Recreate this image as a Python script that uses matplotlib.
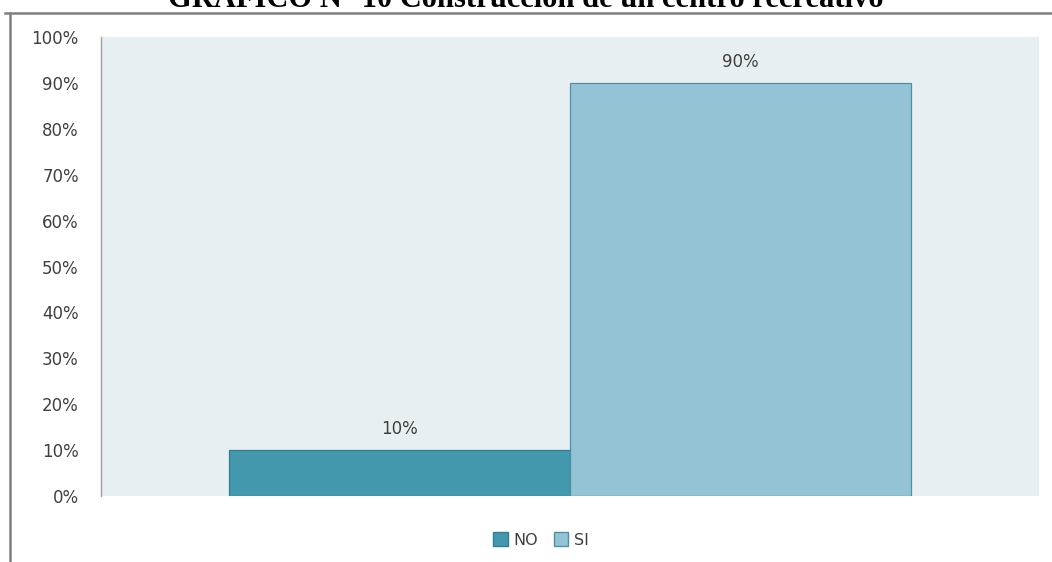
import matplotlib
matplotlib.use("Agg")
import matplotlib.pyplot as plt
from matplotlib.patches import Patch
from matplotlib.lines import Line2D
from matplotlib.ticker import PercentFormatter

title = "GRÁFICO N° 10 Construcción de un centro recreativo"
series = ["NO", "SI"]
values = [10, 90]
colors = ["#4398AE", "#93C3D5"]
edges = ["#2F7F94", "#4E8FA6"]
yticks = [0, 10, 20, 30, 40, 50, 60, 70, 80, 90, 100]

FONT = "DejaVu Sans"
TXT = "#404040"

fig = plt.figure(figsize=(10.52, 5.62), dpi=100)
ax = fig.add_axes([101/1052, 66/562, 938/1052, 459/562])
ax.set_facecolor("#E8EFF3")

width = 0.3635
offsets = [-width/2, width/2]
for v, off, c, e, name in zip(values, offsets, colors, edges, series):
    ax.bar(0.5 + off, v, width=width, color=c, edgecolor=e, linewidth=0.9, label=name)
    ax.annotate(f"{v}%", (0.5 + off, v), xytext=(0, 15), textcoords="offset points",
                ha="center", va="center", fontsize=12, family=FONT, color=TXT)

ax.set_xlim(0, 1)
ax.set_ylim(0, 100)
ax.set_yticks(yticks)
ax.yaxis.set_major_formatter(PercentFormatter(decimals=0))
ax.set_xticks([])
for lbl in ax.get_yticklabels():
    lbl.set_family(FONT)
    lbl.set_fontsize(12)
    lbl.set_color(TXT)
ax.tick_params(axis="y", length=0, pad=16)
for s in ["top", "right", "bottom"]:
    ax.spines[s].set_visible(False)
ax.spines["left"].set_color("#A0A0A0")
ax.spines["left"].set_linewidth(1.0)

handles = [Patch(facecolor=c, edgecolor=e, label=n) for c, e, n in zip(colors, edges, series)]
fig.legend(handles=handles, loc="center", bbox_to_anchor=(541/1052, 1 - 540/562), ncol=2,
           frameon=False, prop={"family": FONT, "size": 11.5},
           handlelength=0.9, handleheight=0.9, handletextpad=0.35, columnspacing=1.0,
           labelcolor=TXT)

# outer frame lines
fig.add_artist(Line2D([5/1052, 1], [1 - 13/562, 1 - 13/562], color="#808080", linewidth=1.8))
fig.add_artist(Line2D([10/1052, 10/1052], [0, 1 - 13/562], color="#808080", linewidth=1.8))

fig.text(0.5, 1 - 7/562, title, ha="center", va="baseline", fontsize=22, fontweight="bold",
         family="Liberation Serif")

fig.savefig("out.png", dpi=100)
